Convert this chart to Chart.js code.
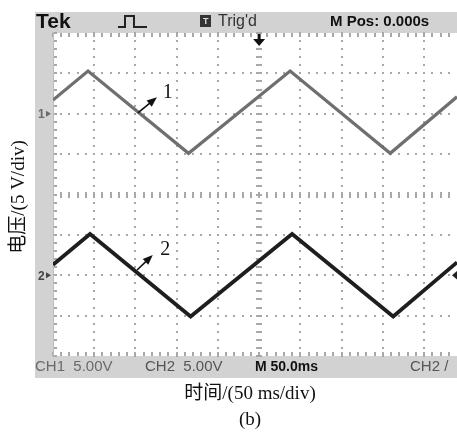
<!DOCTYPE html>
<html>
<head>
<meta charset="utf-8">
<script src="https://cdn.jsdelivr.net/npm/chart.js@4"></script>
<style>
  html, body { margin: 0; padding: 0; background: #fff; overflow: hidden; }
</style>
</head>
<body>
<canvas id="scope" width="457" height="432"></canvas>
<script>
// scope trace, time in ms, voltage in V
const ch1Time = [0, 42.5, 164.4, 287.6, 409.0, 490];
const ch1Volt = [1.7, 5.3, -4.9, 5.3, -4.9, 2.1];
const ch2Time = [0, 44.9, 166.9, 290.0, 412.6, 490];
const ch2Volt = [1.3, 5.1, -5.1, 5.1, -5.1, 1.6];

const voltsPerDiv = 5;
const msPerDiv = 50;
const ch1Ground = 2;   // divisions above centre
const ch2Ground = -2;

const xLabel = '时间/(50 ms/div)';
const yLabel = '电压/(5 V/div)';
const caption = '(b)';

function toDiv(times, volts, ground) {
  return times.map((t, i) => ({ x: t, y: volts[i] / voltsPerDiv + ground }));
}

function arrow(ctx, x0, y0, x1, y1) {
  const ang = Math.atan2(y1 - y0, x1 - x0);
  ctx.beginPath();
  ctx.moveTo(x0, y0);
  ctx.lineTo(x1 - 6 * Math.cos(ang), y1 - 6 * Math.sin(ang));
  ctx.stroke();
  ctx.beginPath();
  ctx.moveTo(x1, y1);
  ctx.lineTo(x1 - 10 * Math.cos(ang) + 4 * Math.sin(ang), y1 - 10 * Math.sin(ang) - 4 * Math.cos(ang));
  ctx.lineTo(x1 - 10 * Math.cos(ang) - 4 * Math.sin(ang), y1 - 10 * Math.sin(ang) + 4 * Math.cos(ang));
  ctx.closePath();
  ctx.fill();
}

const scopePlugin = {
  id: 'scope',
  beforeDraw(chart) {
    const { ctx, chartArea: a, scales: { x, y } } = chart;
    const W = chart.width;
    ctx.save();
    ctx.fillStyle = '#fff';
    ctx.fillRect(0, 0, W, chart.height);

    // grey frame bars
    ctx.fillStyle = '#d2d2d2';
    ctx.fillRect(35, 12, W - 35, a.top - 12);
    ctx.fillRect(35, 12, a.left - 35, a.bottom + 22 - 12);
    ctx.fillRect(35, a.bottom, W - 35, 22);
    ctx.fillStyle = '#fff';
    ctx.fillRect(a.left, a.top, a.right - a.left, a.bottom - a.top);

    // graticule
    ctx.fillStyle = '#a8a8a8';
    const xMax = x.max / msPerDiv;
    for (let i = 1; i <= 10; i++) {
      const px = Math.round(x.getPixelForValue(i * msPerDiv));
      if (px > W) break;
      for (let k = -20; k <= 20; k++) {
        const py = Math.round(y.getPixelForValue(k / 5));
        if (i === 5) ctx.fillRect(px - 3, py - 1, 6, 2);
        else ctx.fillRect(px - 1, py - 1, 2, 2);
      }
    }
    for (let j = -3; j <= 3; j++) {
      const py = Math.round(y.getPixelForValue(j));
      for (let k = 1; k < xMax * 5; k++) {
        const px = Math.round(x.getPixelForValue(k * msPerDiv / 5));
        if (j === 0) ctx.fillRect(px - 1, py - 3, 2, 6);
        else ctx.fillRect(px - 1, py - 1, 2, 2);
      }
    }
    // edge ticks
    for (let k = 0; k < xMax * 5; k++) {
      const px = Math.round(x.getPixelForValue(k * msPerDiv / 5));
      ctx.fillRect(px - 1, a.top, 2, 4);
      ctx.fillRect(px - 1, a.bottom - 4, 2, 4);
    }
    for (let k = -20; k <= 20; k++) {
      const py = Math.round(y.getPixelForValue(k / 5));
      ctx.fillRect(a.left, py - 1, 4, 2);
    }
    ctx.fillStyle = '#bdbdbd';
    ctx.fillRect(a.left, a.top, 1, a.bottom - a.top);

    // top bar texts
    ctx.textBaseline = 'middle';
    ctx.fillStyle = '#111';
    ctx.font = 'bold 21px "Liberation Sans"';
    ctx.fillText('Tek', 36, 22);

    ctx.strokeStyle = '#222';
    ctx.lineWidth = 2;
    ctx.beginPath();
    ctx.moveTo(118, 27); ctx.lineTo(125, 27); ctx.lineTo(125, 16);
    ctx.lineTo(134, 16); ctx.lineTo(134, 27); ctx.lineTo(147, 27);
    ctx.stroke();

    ctx.fillStyle = '#333';
    ctx.fillRect(200, 15, 11, 12);
    ctx.fillStyle = '#ddd';
    ctx.font = 'bold 9px "Liberation Sans"';
    ctx.fillText('T', 203, 21.5);
    ctx.fillStyle = '#333';
    ctx.font = '16px "Liberation Sans"';
    ctx.fillText("Trig'd", 218, 21.5);
    ctx.fillStyle = '#111';
    ctx.font = 'bold 15px "Liberation Sans"';
    ctx.fillText('M Pos: 0.000s', 330, 21.5);

    // bottom bar texts
    ctx.font = '15px "Liberation Sans"';
    ctx.fillStyle = '#6a6a6a';
    ctx.fillText('CH1  5.00V', 35, 367);
    ctx.fillStyle = '#555';
    ctx.fillText('CH2  5.00V', 145, 367);
    ctx.fillText('CH2 /', 410, 367);
    ctx.fillStyle = '#111';
    ctx.font = 'bold 14px "Liberation Sans"';
    ctx.fillText('M 50.0ms', 255, 367);

    // axis titles
    ctx.fillStyle = '#111';
    ctx.textAlign = 'center';
    ctx.font = '19px "Liberation Serif", "Noto Sans CJK SC"';
    ctx.fillText(xLabel, 250, 394);
    ctx.fillText(caption, 250, 420);
    ctx.translate(19, 197);
    ctx.rotate(-Math.PI / 2);
    ctx.fillText(yLabel, 0, 0);
    ctx.restore();
  },
  afterDatasetsDraw(chart) {
    const { ctx, chartArea: a, scales: { x, y } } = chart;
    ctx.save();
    // channel ground markers
    ctx.textBaseline = 'middle';
    ctx.font = 'bold 12px "Liberation Sans"';
    [[ch1Ground, '1', '#6a6a6a'], [ch2Ground, '2', '#444']].forEach(([g, t, c]) => {
      const py = y.getPixelForValue(g);
      ctx.fillStyle = c;
      ctx.fillText(t, 38, py + 1);
      ctx.beginPath();
      ctx.moveTo(46, py - 3); ctx.lineTo(51, py); ctx.lineTo(46, py + 3);
      ctx.closePath();
      ctx.fill();
    });

    // trigger position arrow
    const tx = x.getPixelForValue(5 * msPerDiv);
    ctx.fillStyle = '#111';
    ctx.fillRect(tx - 1.5, a.top + 1, 3, 6);
    ctx.beginPath();
    ctx.moveTo(tx - 6, a.top + 6); ctx.lineTo(tx + 6, a.top + 6); ctx.lineTo(tx, a.top + 13);
    ctx.closePath();
    ctx.fill();

    // trigger level marker, right edge
    const ly = y.getPixelForValue(ch2Ground);
    ctx.fillStyle = '#222';
    ctx.beginPath();
    ctx.moveTo(452, ly); ctx.lineTo(458, ly - 5); ctx.lineTo(458, ly + 5);
    ctx.closePath();
    ctx.fill();

    // curve callouts
    ctx.strokeStyle = '#111';
    ctx.fillStyle = '#111';
    ctx.lineWidth = 1.6;
    arrow(ctx, x.getPixelForValue(103), y.getPixelForValue(2.02), x.getPixelForValue(126), y.getPixelForValue(2.41));
    arrow(ctx, x.getPixelForValue(102), y.getPixelForValue(-1.87), x.getPixelForValue(121), y.getPixelForValue(-1.5));
    ctx.font = '20px "Liberation Serif"';
    ctx.textBaseline = 'middle';
    ctx.fillText('1', x.getPixelForValue(133), y.getPixelForValue(2.53));
    ctx.fillText('2', x.getPixelForValue(130), y.getPixelForValue(-1.37));
    ctx.restore();
  }
};

new Chart(document.getElementById('scope'), {
  type: 'scatter',
  data: {
    datasets: [
      {
        label: 'CH1',
        data: toDiv(ch1Time, ch1Volt, ch1Ground),
        showLine: true,
        borderColor: '#6f6f6f',
        borderWidth: 3.2,
        pointRadius: 0,
        tension: 0
      },
      {
        label: 'CH2',
        data: toDiv(ch2Time, ch2Volt, ch2Ground),
        showLine: true,
        borderColor: '#1e1e1e',
        borderWidth: 3.8,
        pointRadius: 0,
        tension: 0
      }
    ]
  },
  options: {
    responsive: false,
    animation: false,
    devicePixelRatio: 1,
    layout: { padding: { left: 53, top: 33, right: 0, bottom: 76 } },
    plugins: { legend: { display: false }, tooltip: { enabled: false } },
    scales: {
      x: { type: 'linear', min: 0, max: 490, display: false },
      y: { type: 'linear', min: -4, max: 4, display: false }
    }
  },
  plugins: [scopePlugin]
});
</script>
</body>
</html>
